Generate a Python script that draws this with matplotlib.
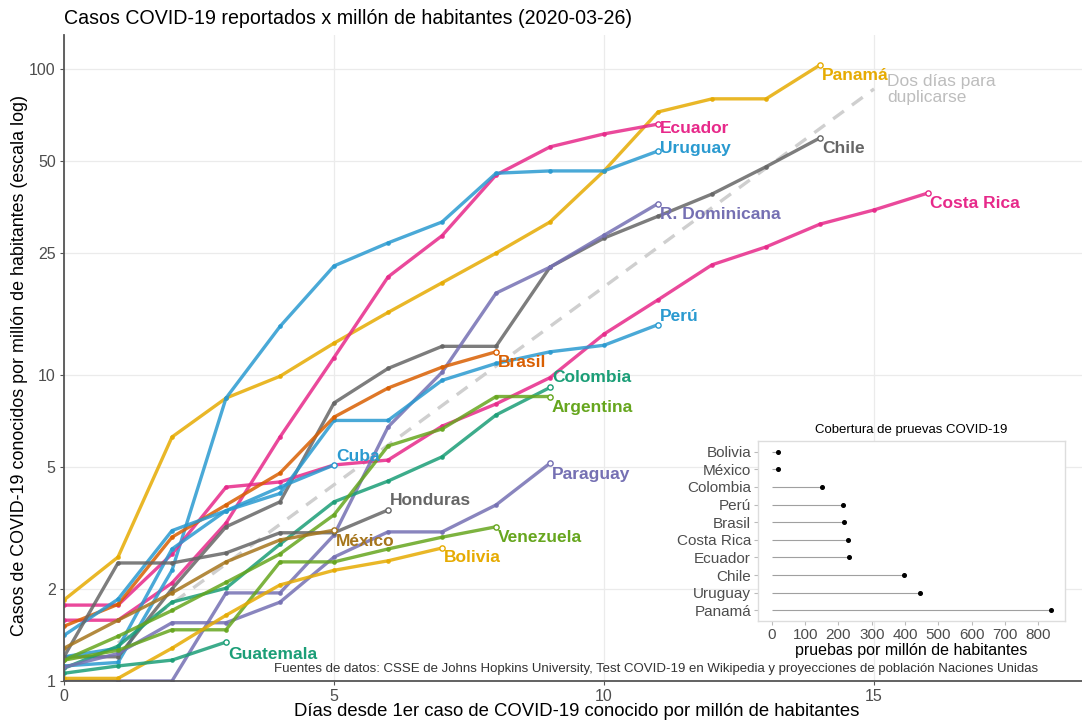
"""Casos COVID-19 por millón de habitantes en América Latina (2020-03-26)."""
import matplotlib
matplotlib.use("Agg")
import matplotlib.pyplot as plt
from matplotlib.ticker import NullLocator

plt.rcParams["font.family"] = ["Liberation Sans", "DejaVu Sans"]

# --- datos --------------------------------------------------------------------
panama = [1.84, 2.54, 6.27, 8.4, 9.9, 12.7, 16.0, 20.0, 25.0, 31.6, 46.4, 72.3, 79.8, 79.8, 103]
ecuador = [1.58, 1.58, 2.09, 3.28, 6.27, 11.4, 20.9, 28.5, 45.0, 55.6, 61.3, 66.0]
uruguay = [1.12, 1.15, 2.3, 8.4, 14.4, 22.7, 27.0, 31.6, 45.6, 46.4, 46.4, 53.9]
chile = [1.2, 1.2, 2.0, 3.19, 3.85, 8.1, 10.5, 12.4, 12.4, 22.5, 28.0, 33.0, 39.0, 47.9, 59.5]
costa_rica = [1.77, 1.77, 2.6, 4.3, 4.47, 5.08, 5.27, 6.8, 8.04, 9.8, 13.6, 17.6, 22.9, 26.2,
              31.1, 34.6, 39.3]
r_dominicana = [1.0, 1.0, 1.0, 1.94, 1.94, 3.0, 6.76, 10.2, 18.5, 22.5, 28.6, 36.3]
peru = [1.2, 1.28, 2.7, 3.6, 4.1, 7.1, 7.1, 9.6, 10.9, 11.9, 12.5, 14.6]
brasil = [1.51, 1.78, 2.95, 3.76, 4.78, 7.28, 9.06, 10.6, 11.9]
colombia = [1.1, 1.3, 1.81, 2.01, 2.8, 3.85, 4.5, 5.4, 7.4, 9.1]
argentina = [1.17, 1.4, 1.7, 2.1, 2.6, 3.49, 5.86, 6.66, 8.5, 8.5]
cuba = [1.41, 1.85, 3.1, 3.6, 4.3, 5.08]
paraguay = [1.11, 1.23, 1.55, 1.55, 1.81, 2.54, 3.07, 3.07, 3.76, 5.15]
honduras = [1.2, 2.43, 2.43, 2.62, 3.05, 3.05, 3.62]
mexico = [1.28, 1.58, 1.94, 2.45, 2.89, 3.11]
venezuela = [1.17, 1.26, 1.47, 1.47, 2.45, 2.45, 2.7, 2.95, 3.19]
bolivia = [1.02, 1.02, 1.28, 1.64, 2.06, 2.3, 2.47, 2.72]
guatemala = [1.06, 1.12, 1.17, 1.34]

# línea de referencia "dos días para duplicarse"
dup_x = [1, 15]
dup_y = [1.33, 86]

# cobertura de pruebas (inset)
tests_country = ["Bolivia", "México", "Colombia", "Perú", "Brasil", "Costa Rica",
                 "Ecuador", "Chile", "Uruguay", "Panamá"]
tests_value = [17, 17, 150, 213, 216, 229, 233, 396, 444, 838]

# --- estilo --------------------------------------------------------------------
YELLOW, PINK, BLUE, GRAY = "#E6AB02", "#E7298A", "#2A9AD0", "#666666"
PURPLE, ORANGE, TEAL, GREEN, BROWN = "#7570B3", "#D95F02", "#1B9E77", "#66A61E", "#A6761D"

# (nombre, serie, color, desplazamiento vertical de la etiqueta en px)
series = [
    ("Panamá", panama, YELLOW, -11),
    ("Ecuador", ecuador, PINK, -4),
    ("Uruguay", uruguay, BLUE, 3),
    ("Chile", chile, GRAY, -11),
    ("Costa Rica", costa_rica, PINK, -11),
    ("R. Dominicana", r_dominicana, PURPLE, -11),
    ("Perú", peru, BLUE, 8),
    ("Brasil", brasil, ORANGE, -11),
    ("Colombia", colombia, TEAL, 10),
    ("Argentina", argentina, GREEN, -11),
    ("Cuba", cuba, BLUE, 8),
    ("Paraguay", paraguay, PURPLE, -11),
    ("Honduras", honduras, GRAY, 9),
    ("México", mexico, BROWN, -11),
    ("Venezuela", venezuela, GREEN, -11),
    ("Bolivia", bolivia, YELLOW, -10),
    ("Guatemala", guatemala, TEAL, -12),
]

W, H = 1082, 724
fig = plt.figure(figsize=(W / 100, H / 100), dpi=100)
ax = fig.add_axes([64 / W, 43 / H, 1018 / W, 646 / H])

ax.plot(dup_x, dup_y, color="#cfcfcf", lw=2.4, ls=(0, (4, 3)), zorder=1)
ax.annotate("Dos días para\nduplicarse", (dup_x[-1], dup_y[-1]), xytext=(13, -1),
            textcoords="offset pixels", ha="left", va="center", color="#bdbdbd",
            fontsize=12.5, linespacing=1.1)

for name, vals, col, dy in series:
    days = list(range(len(vals)))
    ax.plot(days, vals, color=col, lw=2.4, alpha=0.85, marker="o", ms=2.4,
            solid_joinstyle="round", zorder=2)
    ax.plot(days[-1], vals[-1], marker="o", ms=3.8, mfc="white", mec=col, mew=1, zorder=3)
    ax.annotate(name, (days[-1], vals[-1]), xytext=(2, dy), textcoords="offset pixels",
                ha="left", va="center", color=col, fontweight="bold", fontsize=12.5, zorder=4)

ax.set_yscale("log")
ax.set_xlim(0, 18.85)
ax.set_ylim(1, 129)
yt = [1, 2, 5, 10, 25, 50, 100]
ax.set_yticks(yt)
ax.set_yticklabels([str(v) for v in yt])
ax.yaxis.set_minor_locator(NullLocator())
ax.set_xticks([0, 5, 10, 15])
ax.grid(True, color="#ebebeb", lw=0.9)
ax.set_axisbelow(True)
for s in ("top", "right"):
    ax.spines[s].set_visible(False)
for s in ("left", "bottom"):
    ax.spines[s].set_color("#555555")
    ax.spines[s].set_linewidth(1.3)
ax.tick_params(length=3, color="#555555", labelsize=11.5, labelcolor="#4d4d4d", pad=3)

fig.text(64 / W, 1 - 18 / H, "Casos COVID-19 reportados x millón de habitantes (2020-03-26)",
         ha="left", va="center", fontsize=14.1)
fig.text(20 / W, 1 - 365 / H,
         "Casos de COVID-19 conocidos por millón de habitantes (escala log)",
         rotation=90, ha="center", va="center", fontsize=12.9)
fig.text(577 / W, 1 - 711 / H,
         "Días desde 1er caso de COVID-19 conocido por millón de habitantes",
         ha="center", va="center", fontsize=13.3)
fig.text(1038 / W, 1 - 669 / H,
         "Fuentes de datos: CSSE de Johns Hopkins University, Test COVID-19 en Wikipedia "
         "y proyecciones de población Naciones Unidas",
         ha="right", va="center", fontsize=9.5, color="#333333")

# --- inset: cobertura de pruebas -----------------------------------------------
axin = fig.add_axes([758 / W, 103 / H, 307 / W, 180 / H])
pos = list(range(len(tests_country)))
axin.hlines(pos, 0, tests_value, color="#a0a0a0", lw=0.8)
axin.plot(tests_value, pos, "o", color="black", ms=2.6)
axin.set_ylim(len(pos) - 0.4, -0.6)
axin.set_xlim(-42, 881)
axin.set_yticks(pos)
axin.set_yticklabels(tests_country)
axin.set_xticks(range(0, 900, 100))
for s in axin.spines.values():
    s.set_color("#dddddd")
    s.set_linewidth(1.0)
axin.tick_params(length=3, color="#bbbbbb", labelsize=11, labelcolor="#4d4d4d", pad=2)
axin.set_title("Cobertura de pruevas COVID-19", fontsize=9.5, pad=6)
axin.set_xlabel("pruebas por millón de habitantes", fontsize=11.5, labelpad=1)

fig.savefig("out.png", dpi=100)
